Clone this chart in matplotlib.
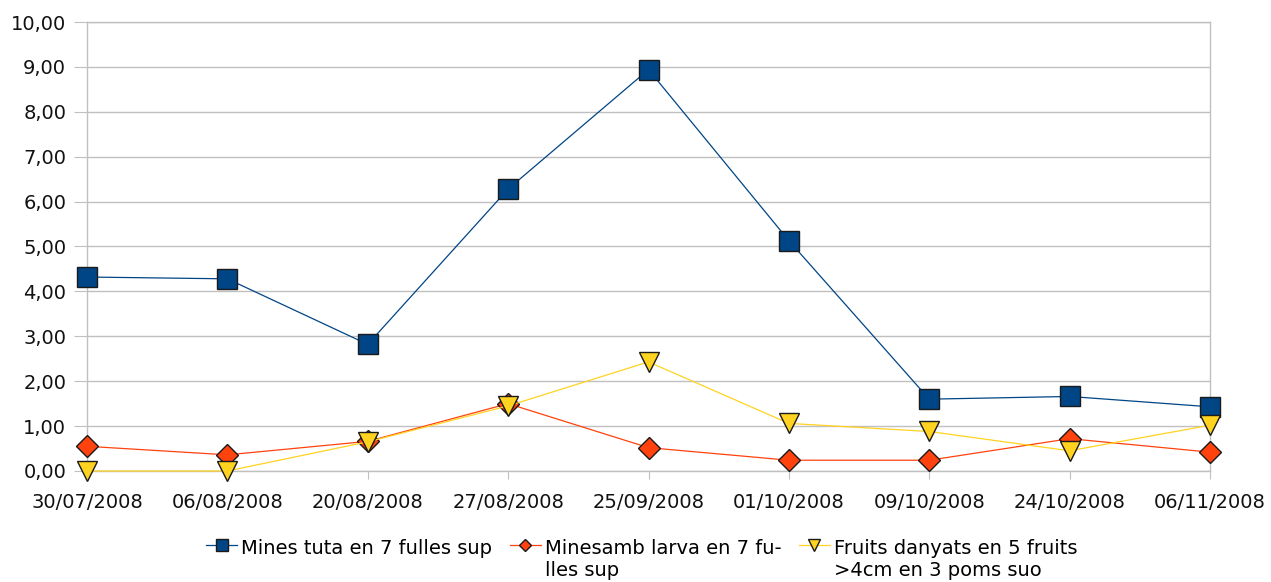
import matplotlib
matplotlib.use("Agg")
import matplotlib.pyplot as plt

dates = ["30/07/2008", "06/08/2008", "20/08/2008", "27/08/2008", "25/09/2008",
         "01/10/2008", "09/10/2008", "24/10/2008", "06/11/2008"]
mines_tuta = [4.32, 4.28, 2.82, 6.28, 8.94, 5.13, 1.60, 1.66, 1.43]
mines_larva = [0.55, 0.36, 0.66, 1.50, 0.52, 0.24, 0.24, 0.72, 0.42]
fruits = [0.0, 0.0, 0.65, 1.45, 2.43, 1.06, 0.88, 0.45, 1.02]
labels = ["Mines tuta en 7 fulles sup",
          "Minesamb larva en 7 fu-\nlles sup",
          "Fruits danyats en 5 fruits\n>4cm en 3 poms suo"]
y_ticks = [0, 1, 2, 3, 4, 5, 6, 7, 8, 9, 10]
y_tick_labels = ["0,00", "1,00", "2,00", "3,00", "4,00", "5,00",
                 "6,00", "7,00", "8,00", "9,00", "10,00"]

plt.rcParams['font.family'] = ['DejaVu Sans']
fig = plt.figure(figsize=(12.71, 5.82), dpi=100)
ax = fig.add_axes([87/1271, 1 - 471/582, (1210 - 87)/1271, (471 - 22)/582])

x = list(range(len(dates)))
grid_c = "#c0c0c0"
ax.plot(x, mines_tuta, color="#004586", lw=0.9, marker="s", ms=14,
        mfc="#004586", mec="#1a1a1a", mew=1, label=labels[0], zorder=3, clip_on=False)
ax.plot(x, mines_larva, color="#ff420e", lw=0.9, marker="D", ms=11,
        mfc="#ff420e", mec="#1a1a1a", mew=1, label=labels[1], zorder=4, clip_on=False)
ax.plot(x, fruits, color="#ffd320", lw=0.9, marker="v", ms=15,
        mfc="#ffd320", mec="#1a1a1a", mew=1, label=labels[2], zorder=5, clip_on=False)

ax.set_xlim(0, len(dates) - 1)
ax.set_ylim(0, 10)
ax.set_xticks(x)
ax.set_xticklabels(dates, fontsize=14)
ax.set_yticks(y_ticks)
ax.set_yticklabels(y_tick_labels, fontsize=14)
ax.yaxis.grid(True, color=grid_c, lw=1)
ax.set_axisbelow(True)
for s in ax.spines.values():
    s.set_color(grid_c)
    s.set_linewidth(1)
ax.tick_params(axis="y", length=9.5, color=grid_c, pad=5.5)
ax.tick_params(axis="x", length=6, color=grid_c, pad=9.5)
for lab in ax.get_xticklabels() + ax.get_yticklabels():
    lab.set_color("#111111")

leg = fig.legend(loc="upper center", bbox_to_anchor=(0.505, 1 - 521/582), ncol=3,
                 frameon=False, fontsize=14, handlelength=1.6, handletextpad=0.2,
                 columnspacing=0.9, markerscale=0.6, labelspacing=0.2)
try:
    hb = leg._legend_handle_box
    hb.align = "top"
    for col in hb.get_children():
        col.align = "top"
        for item in col.get_children():
            item.align = "top"
except Exception:
    pass

fig.savefig("out.png", dpi=100)
